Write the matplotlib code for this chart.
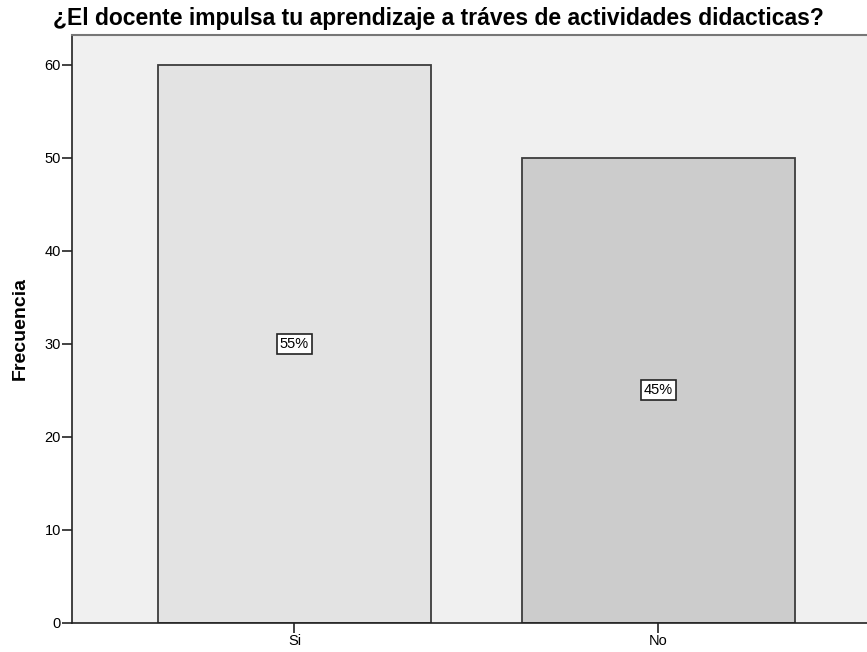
import matplotlib
matplotlib.use("Agg")
import matplotlib.pyplot as plt

categories = ["Si", "No"]
frecuencias = [60, 50]
porcentajes = ["55%", "45%"]
colores = ["#E3E3E3", "#CCCCCC"]

titulo = "¿El docente impulsa tu aprendizaje a tráves de actividades didacticas?"

plt.rcParams['font.family'] = ['Liberation Sans', 'DejaVu Sans']

fig = plt.figure(figsize=(8.67, 6.52), dpi=100)
fig.patch.set_facecolor("white")
ax = fig.add_axes([72/867, 29/652, 1 - 72/867, (623-35)/652])
ax.set_facecolor("#F0F0F0")

x = list(range(len(categories)))
ax.bar(x, frecuencias, width=0.75, color=colores, edgecolor="#3C3C3C", linewidth=1.3, zorder=2)
for xi, v, p in zip(x, frecuencias, porcentajes):
    ax.text(xi, v / 2, p, ha="center", va="center", fontsize=10.5, zorder=3,
            bbox=dict(boxstyle="square,pad=0.2", facecolor="white", edgecolor="#222222", linewidth=1.2))

ax.set_xlim(-0.611, 1.573)
ax.set_ylim(0, 63.2)
ax.set_xticks(x)
ax.set_xticklabels(categories, fontsize=10.5)
ax.set_yticks([0, 10, 20, 30, 40, 50, 60])
ax.tick_params(axis="both", direction="out", length=7, width=1.2, color="#222222", labelsize=10.5, pad=1)

ax.spines["right"].set_visible(False)
ax.spines["top"].set_color("#777777")
ax.spines["top"].set_linewidth(1.5)
ax.spines["left"].set_color("#222222")
ax.spines["bottom"].set_color("#222222")
ax.spines["left"].set_linewidth(1.2)
ax.spines["bottom"].set_linewidth(1.2)

ax.set_ylabel("Frecuencia", fontsize=14, fontweight="bold", labelpad=11)
fig.text(438/867, 1 - 18/652, titulo, ha="center", va="center", fontsize=16.5, fontweight="bold")

fig.savefig("out.png", dpi=100)
